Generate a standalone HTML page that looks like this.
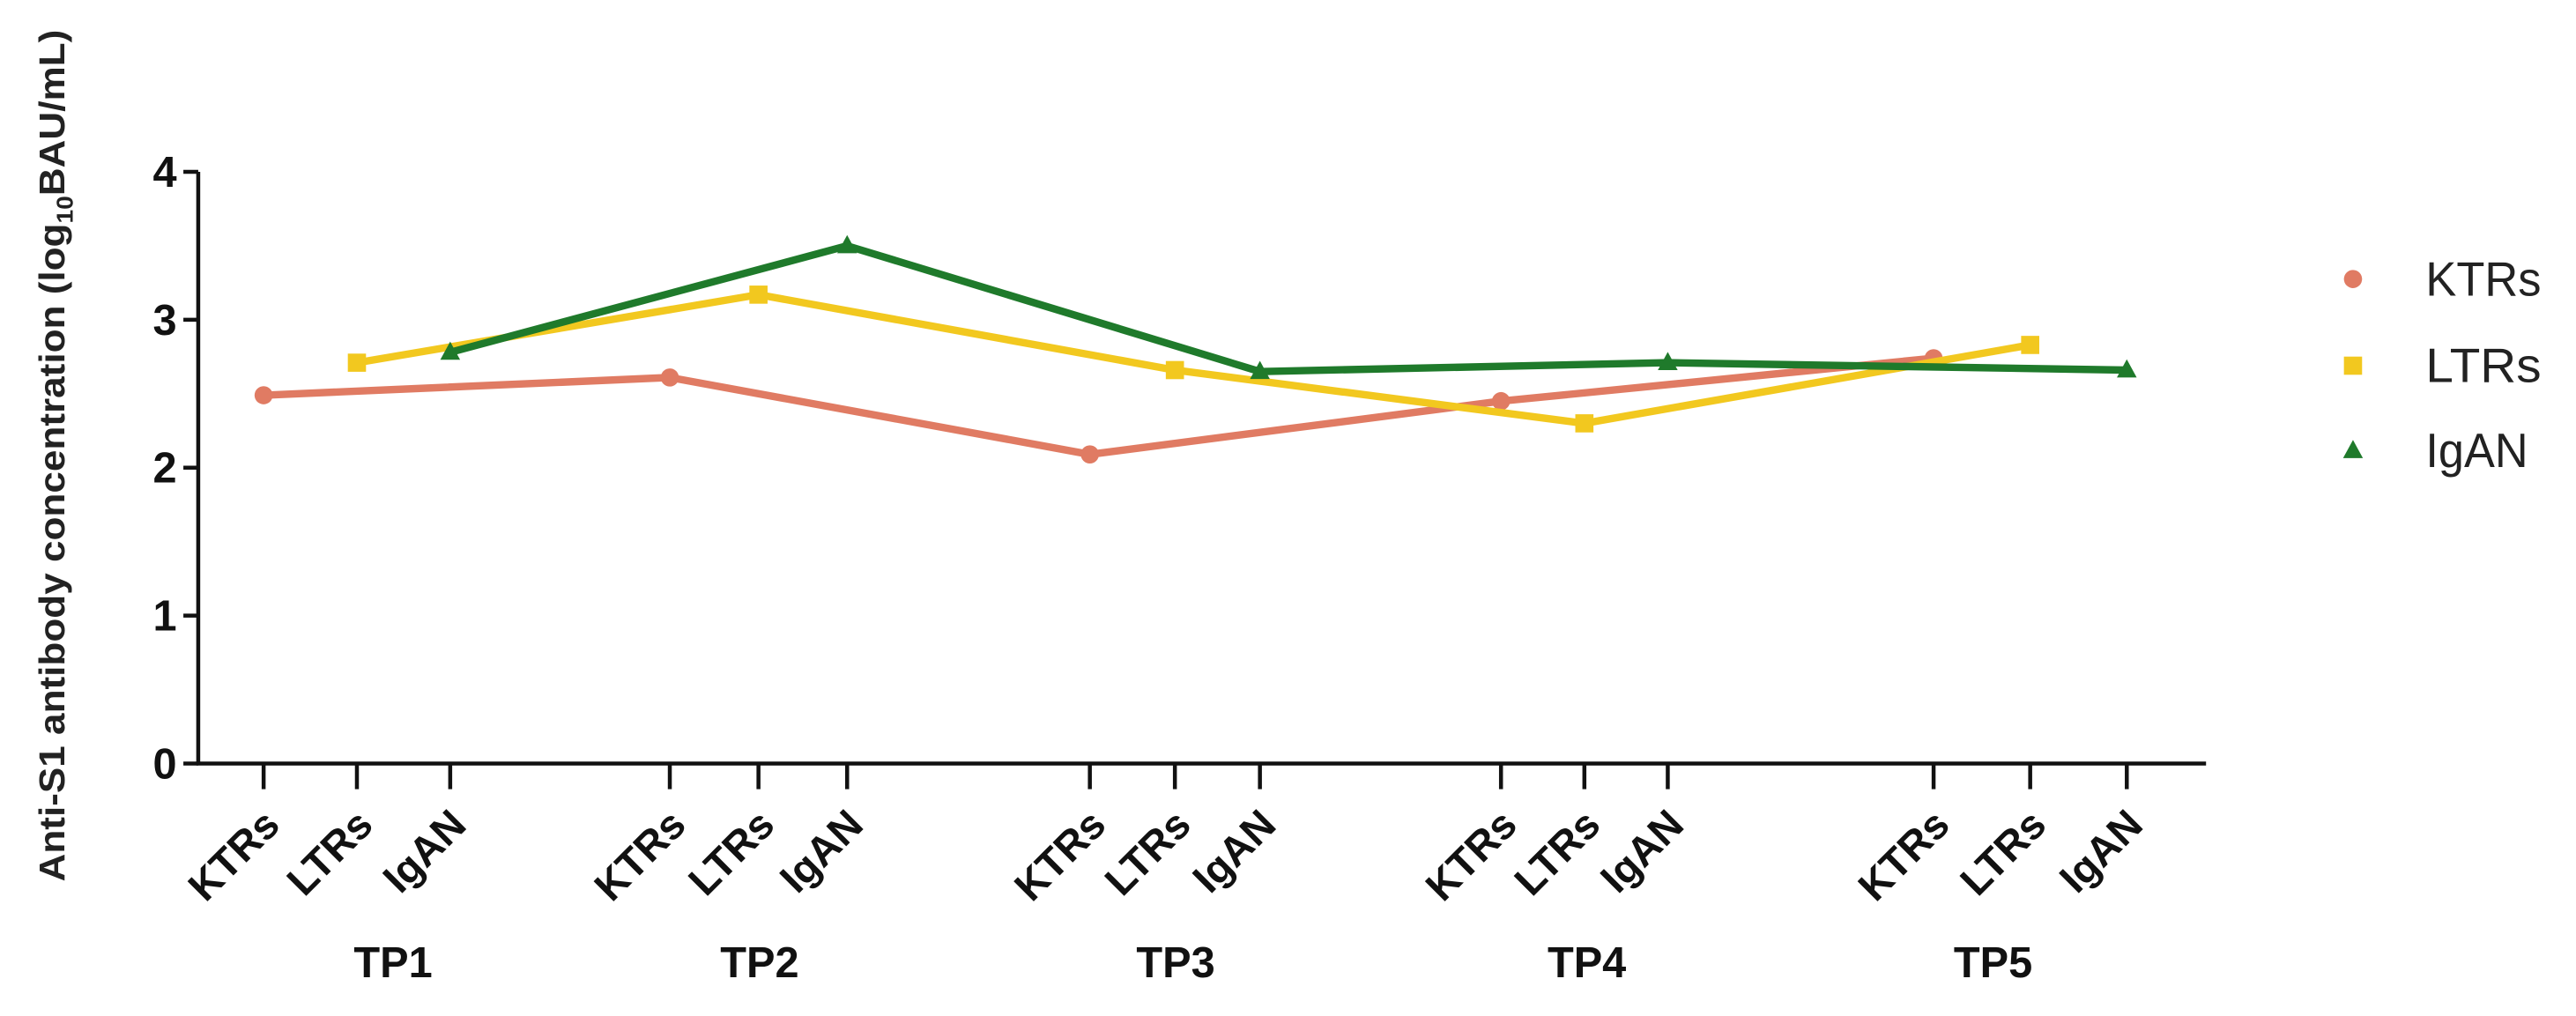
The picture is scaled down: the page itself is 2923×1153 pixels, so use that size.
<!DOCTYPE html>
<html><head><meta charset="utf-8"><style>
html,body{margin:0;padding:0;background:#fff;}
svg{display:block;}
text{font-family:"Liberation Sans",Arial,sans-serif;}
</style></head><body>
<svg id="chart" width="2923" height="1153" viewBox="0 0 1560 615.4" xmlns="http://www.w3.org/2000/svg">
<rect width="1560" height="615.4" fill="#fff"/>
<text transform="translate(39,276) rotate(-90)" text-anchor="middle" font-size="22" font-weight="bold" fill="#222" textLength="516" lengthAdjust="spacingAndGlyphs">Anti-S1 antibody concentration (log<tspan font-size="14" dy="5">10</tspan><tspan dy="-5">BAU/mL)</tspan></text>
<g id="axes"></g>
<g id="series"></g>
<g id="legend"></g>
</svg>
<script>
const timepoints = ["TP1","TP2","TP3","TP4","TP5"];
const groups = ["KTRs","LTRs","IgAN"];
const ktrsValues = [2.49, 2.61, 2.09, 2.45, 2.74];
const ltrsValues = [2.71, 3.17, 2.66, 2.30, 2.83];
const iganValues = [2.78, 3.50, 2.65, 2.71, 2.66];
const yTicks = [0, 1, 2, 3, 4];

const NS = "http://www.w3.org/2000/svg";
const colors = ["#E07B63", "#F2C81F", "#1F7A2B"];
const seriesVals = [ktrsValues, ltrsValues, iganValues];
const groupStart = [159.6, 405.6, 660, 909, 1171];
const groupStep = [56.5, 53.7, 51.5, 50.5, 58.5];
const axisX = 120, y0 = 462.5, yUnit = 89.6;
function yScale(v){ return y0 - v*yUnit; }
function xScale(tp, g){ return groupStart[tp] + g*groupStep[tp]; }
function mk(tag, attrs, parent){
  const e = document.createElementNS(NS, tag);
  for (const k in attrs) e.setAttribute(k, attrs[k]);
  parent.appendChild(e); return e;
}
const axes = document.getElementById("axes");
const yAxis = mk("line", {x1:axisX, y1:yScale(4), x2:axisX, y2:y0, stroke:"#111", "stroke-width":2.4}, axes);


const xAxis = mk("line", {x1:axisX-1.2, y1:y0, x2:1336, y2:y0, stroke:"#111", "stroke-width":2.4}, axes);


yTicks.forEach(t => {
  const y = yScale(t);
  const tk = mk("line", {x1:axisX-9, y1:y, x2:axisX, y2:y, stroke:"#111", "stroke-width":2.4}, axes);
  
  
  const lb = mk("text", {x:axisX-13, y:y+9, "text-anchor":"end", "font-size":26, "font-weight":"bold", fill:"#111"}, axes);
  lb.textContent = t;
  
  
});
const tpLabelX = [238, 460, 712, 961, 1207];
timepoints.forEach((tp, i) => {
  groups.forEach((g, j) => {
    const x = xScale(i, j);
    const tk = mk("line", {x1:x, y1:y0, x2:x, y2:y0+15.5, stroke:"#111", "stroke-width":2.4}, axes);
    
    
    const lb = mk("text", {transform:`translate(${x+11},${501}) rotate(-45)`, "text-anchor":"end", "font-size":25, "font-weight":"bold", fill:"#111"}, axes);
    lb.textContent = g;
    
    
  });
  const tl = mk("text", {x:tpLabelX[i], y:592, "text-anchor":"middle", "font-size":26, "font-weight":"bold", fill:"#111"}, axes);
  tl.textContent = tp;
  
  
});
const sg = document.getElementById("series");
function marker(j, x, y, parent){
  let m;
  if (j === 0) m = mk("circle", {cx:x, cy:y, r:5.5, fill:colors[0]}, parent);
  else if (j === 1) m = mk("rect", {x:x-5.5, y:y-5.5, width:11, height:11, fill:colors[1]}, parent);
  else m = mk("polygon", {points:`${x},${y-6.5} ${x+6},${y+4.5} ${x-6},${y+4.5}`, fill:colors[2]}, parent);
  return m;
}
seriesVals.forEach((vals, j) => {
  const pts = vals.map((v, i) => xScale(i, j) + "," + yScale(v)).join(" ");
  const pl = mk("polyline", {points:pts, fill:"none", stroke:colors[j], "stroke-width":4.5, "stroke-linejoin":"round"}, sg);
  
  
  vals.forEach((v, i) => {
    const m = marker(j, xScale(i, j), yScale(v), sg);
    
    
  });
});
const lg = document.getElementById("legend");
const legY = [169, 221.5, 273];
groups.forEach((g, j) => {
  const m = marker(j, 1425, legY[j], lg);
  
  
  const t = mk("text", {x:1469, y:legY[j]+10, "font-size":29, fill:"#222", textLength: g === "IgAN" ? 62 : 70, lengthAdjust:"spacingAndGlyphs"}, lg);
  t.textContent = g;
  
  
});
</script>
</body></html>
